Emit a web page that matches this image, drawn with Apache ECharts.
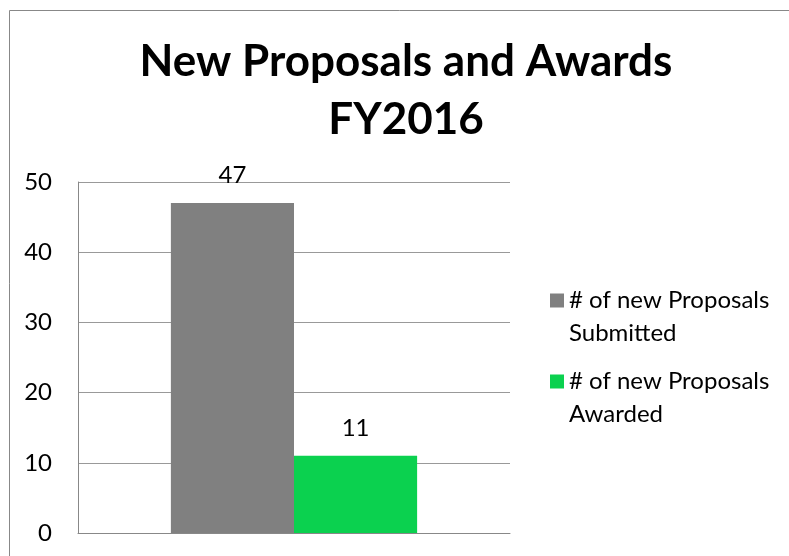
<!DOCTYPE html>
<html>
<head>
<meta charset="utf-8">
<script src="https://cdn.jsdelivr.net/npm/echarts@6/dist/echarts.min.js"></script>
<style>
    html, body { margin: 0; padding: 0; background: #fff; }
    #chart { width: 789px; height: 556px; }
</style>
</head>
<body>
<div id="chart"></div>
<script>
var categories = [''];
var seriesNames = ['# of new Proposals\nSubmitted', '# of new Proposals\nAwarded'];
var submitted = [47];
var awarded = [11];
var yTicks = { min: 0, max: 50, interval: 10 };

var font = 'Lato, "Open Sans", sans-serif';

var chart = echarts.init(document.getElementById('chart'));

chart.setOption({
    animation: false,
    color: ['#808080', '#0bd14f'],
    textStyle: { fontFamily: font },
    title: {
        text: 'New Proposals and Awards\nFY2016',
        left: 406,
        top: 33,
        padding: 0,
        textAlign: 'center',
        textStyle: {
            fontFamily: font,
            fontSize: 44,
            fontWeight: 'bold',
            color: '#000',
            lineHeight: 58
        }
    },
    graphic: [{
        type: 'rect',
        shape: { x: 9.5, y: 10.5, width: 900, height: 700 },
        style: { fill: 'none', stroke: '#888', lineWidth: 1 },
        silent: true
    }],
    legend: {
        orient: 'vertical',
        left: 550,
        top: 251,
        padding: 0,
        itemWidth: 14,
        itemHeight: 14,
        itemGap: -18,
        icon: 'rect',
        data: seriesNames,
        // blank first line so the marker sits beside the first text line
        formatter: function (name) {
            return ' \n' + name;
        },
        textStyle: {
            fontFamily: font,
            fontSize: 24,
            color: '#000',
            lineHeight: 33
        }
    },
    grid: {
        left: 78,
        right: 279,
        top: 182,
        bottom: 23
    },
    xAxis: {
        type: 'category',
        data: categories,
        axisLine: { show: true, lineStyle: { color: '#888' } },
        axisTick: { show: false },
        axisLabel: { show: false }
    },
    yAxis: {
        type: 'value',
        min: yTicks.min,
        max: yTicks.max,
        interval: yTicks.interval,
        axisLine: { show: true, lineStyle: { color: '#888' } },
        axisTick: { show: false },
        axisLabel: { fontFamily: font, fontSize: 24, color: '#000', margin: 26 },
        splitLine: { lineStyle: { color: '#999' } }
    },
    series: [{
        name: seriesNames[0],
        type: 'bar',
        data: submitted,
        barGap: '0%',
        barCategoryGap: '43%',
        label: { show: true, position: 'top', distance: 16, fontFamily: font, fontSize: 24, color: '#000' }
    }, {
        name: seriesNames[1],
        type: 'bar',
        data: awarded,
        label: { show: true, position: 'top', distance: 16, fontFamily: font, fontSize: 24, color: '#000' }
    }]
});
</script>
</body>
</html>
